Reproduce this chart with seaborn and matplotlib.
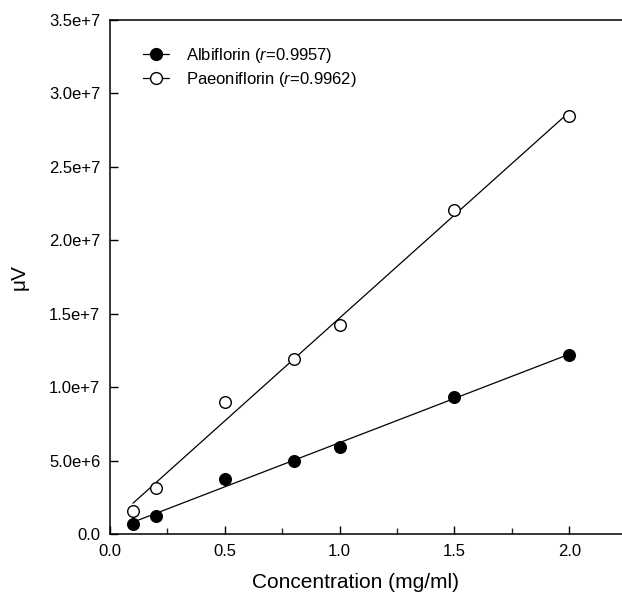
import matplotlib
import numpy as np
import pandas as pd
import seaborn as sns

matplotlib.use("Agg")
import matplotlib.pyplot as plt
from matplotlib.lines import Line2D
from matplotlib.ticker import FuncFormatter, MultipleLocator

# concentrations (mg/ml) and detector response (uV)
conc = [0.1, 0.2, 0.5, 0.8, 1.0, 1.5, 2.0]
albiflorin = [0.68e6, 1.25e6, 3.75e6, 4.95e6, 5.95e6, 9.35e6, 12.2e6]
paeoniflorin = [1.57e6, 3.13e6, 9.0e6, 11.95e6, 14.2e6, 22.05e6, 28.45e6]
labels = ["Albiflorin ($\\it{r}$=0.9957)", "Paeoniflorin ($\\it{r}$=0.9962)"]
y_ticks = [0, 5e6, 1e7, 1.5e7, 2e7, 2.5e7, 3e7, 3.5e7]


def sci_fmt(v, _pos):
    if v == 0:
        return "0.0"
    mant, exp = f"{v:.1e}".split("e")
    return f"{mant}e+{int(exp)}"


def main() -> None:
    sns.set_style("ticks")
    plt.rcParams["font.family"] = ["Liberation Sans", "DejaVu Sans"]
    plt.rcParams["mathtext.fontset"] = "custom"
    plt.rcParams["mathtext.rm"] = "Liberation Sans"
    plt.rcParams["mathtext.it"] = "Liberation Sans:italic"
    plt.rcParams["text.color"] = "black"
    plt.rcParams["axes.labelcolor"] = "black"

    df = pd.DataFrame({"conc": conc, "Albiflorin": albiflorin, "Paeoniflorin": paeoniflorin})

    fig = plt.figure(figsize=(6.22, 5.96), dpi=100)
    ax = fig.add_axes([110 / 622, 62 / 596, 512 / 622, 514 / 596])

    styles = {"Albiflorin": "black", "Paeoniflorin": "white"}
    for name, face in styles.items():
        sns.regplot(
            data=df,
            x="conc",
            y=name,
            ax=ax,
            ci=None,
            truncate=True,
            scatter_kws={"s": 70, "facecolor": face, "edgecolor": "black",
                         "linewidths": 1.0, "alpha": 1, "zorder": 3},
            line_kws={"color": "black", "linewidth": 0.9, "zorder": 2},
        )

    ax.set_xlim(0, 2.23)
    ax.set_ylim(0, 3.5e7)
    ax.xaxis.set_major_locator(MultipleLocator(0.5))
    ax.xaxis.set_minor_locator(MultipleLocator(0.25))
    ax.set_yticks(y_ticks)
    ax.yaxis.set_major_formatter(FuncFormatter(sci_fmt))
    ax.xaxis.set_major_formatter(FuncFormatter(lambda v, p: f"{v:.1f}"))
    ax.tick_params(axis="both", which="major", direction="in", length=6, width=1,
                   labelsize=12, pad=7, color="black", labelcolor="black")
    ax.tick_params(axis="x", which="minor", direction="in", length=4, width=1)

    for side in ["left", "top", "bottom"]:
        ax.spines[side].set_visible(True)
        ax.spines[side].set_linewidth(1.1)
        ax.spines[side].set_color("black")
    ax.spines["right"].set_visible(False)

    ax.set_xlabel("Concentration (mg/ml)", fontsize=15, color="black")
    ax.set_ylabel("\u03bcV", fontsize=15, color="black")
    ax.xaxis.set_label_coords(0.479, -0.075)
    ax.yaxis.set_label_coords(-0.158, 0.5)

    handles = [
        Line2D([], [], color="black", linewidth=0.9, marker="o", markersize=8.5,
               markerfacecolor="black", markeredgecolor="black"),
        Line2D([], [], color="black", linewidth=0.9, marker="o", markersize=8.5,
               markerfacecolor="white", markeredgecolor="black"),
    ]
    ax.legend(handles, labels, loc="upper left", bbox_to_anchor=(0.064, 0.95),
              frameon=False, fontsize=12, handlelength=1.6, handletextpad=1.0,
              labelspacing=0.32, borderpad=0, borderaxespad=0, labelcolor="black")

    fig.savefig("out.png", dpi=100)
    plt.close(fig)


if __name__ == "__main__":
    main()
